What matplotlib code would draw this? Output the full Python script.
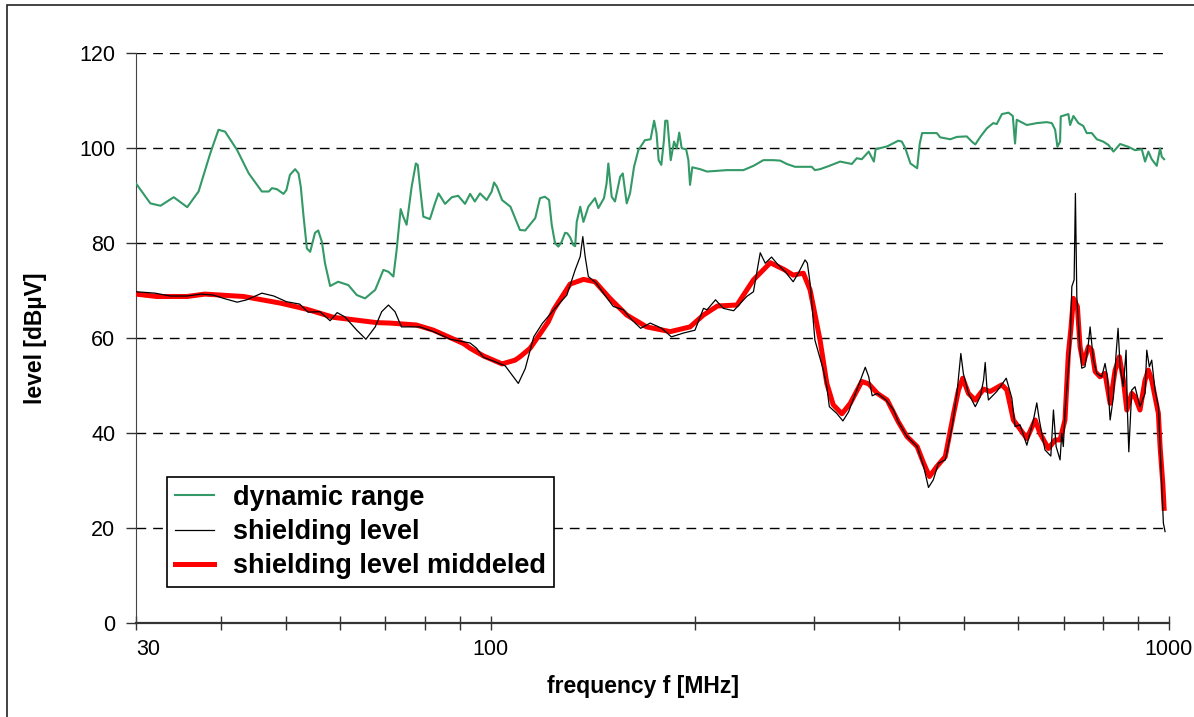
import matplotlib.pyplot as plt
from matplotlib.ticker import FixedLocator, FixedFormatter, NullFormatter
from matplotlib.patches import Rectangle

plt.rcParams['font.family'] = ['Liberation Sans', 'DejaVu Sans']

# dynamic range (green)
freq_dyn = [30.0, 31.5, 32.6, 34.1, 35.7, 37.1, 38.6, 39.7, 40.6, 42.3,
            44.0, 46.0, 47.1, 47.6, 48.4, 49.5, 50.0, 50.6, 51.5, 52.1,
            52.5, 53.0, 53.6, 54.2, 55.1, 55.7, 56.4, 57.0, 58.0, 59.6,
            61.7, 63.5, 65.3, 67.6, 69.5, 70.7, 71.9, 72.7, 73.7, 74.3,
            75.2, 76.5, 77.6, 78.1, 78.7, 79.6, 81.4, 82.8, 83.8, 85.7,
            87.7, 89.6, 91.7, 93.3, 94.8, 96.5, 98.7, 100.4, 101.2, 102.2,
            104.0, 107.0, 110.5, 112.5, 116.4, 118.3, 120.3, 122.0, 123.1, 124.5,
            125.9, 127.3, 128.8, 129.8, 131.0, 132.5, 133.3, 134.0, 135.6, 137.1,
            139.4, 142.6, 144.2, 147.0, 148.3, 149.2, 150.9, 152.6, 155.3, 156.7,
            158.8, 160.6, 162.8, 165.2, 168.9, 172.2, 174.3, 175.7, 177.0, 178.6,
            180.2, 181.0, 182.3, 184.4, 186.5, 188.2, 189.8, 191.4, 194.3, 195.8,
            196.9, 198.4, 203.8, 208.6, 223.1, 236.0, 244.2, 252.6, 261.2, 267.4,
            273.5, 281.2, 297.6, 300.9, 306.2, 316.0, 327.8, 341.1, 346.8, 352.8,
            361.2, 367.6, 369.8, 384.6, 399.4, 404.2, 409.0, 416.2, 425.8, 429.6,
            433.0, 442.5, 455.2, 460.5, 476.6, 487.4, 503.9, 512.8, 518.7, 527.6,
            539.5, 551.4, 558.0, 567.8, 580.6, 589.2, 593.7, 597.1, 618.0, 639.2,
            661.2, 672.7, 680.3, 685.6, 691.8, 693.4, 711.6, 715.8, 723.9, 736.2,
            748.5, 757.4, 770.5, 783.7, 801.1, 815.2, 829.3, 848.3, 872.5, 892.3,
            912.9, 923.3, 933.7, 944.4, 960.6, 971.6, 977.2, 985.0]
dyn_range = [92.6, 88.4, 87.9, 89.7, 87.6, 90.9, 98.9, 103.9, 103.5, 99.6,
             94.7, 90.9, 90.9, 91.6, 91.4, 90.4, 91.2, 94.4, 95.6, 94.7,
             91.9, 85.6, 78.9, 78.2, 82.2, 82.7, 80.3, 75.8, 71.0, 71.9,
             71.2, 69.1, 68.4, 70.2, 74.4, 74.0, 73.0, 78.6, 87.2, 85.7,
             83.9, 91.9, 96.8, 96.5, 91.9, 85.6, 85.1, 88.4, 90.5, 88.3,
             89.7, 90.0, 88.3, 90.4, 88.8, 90.5, 89.1, 90.9, 92.8, 91.9,
             89.1, 87.7, 82.8, 82.7, 85.3, 89.5, 89.8, 89.1, 83.9, 80.0,
             79.3, 80.3, 82.2, 82.1, 81.3, 79.6, 79.4, 84.5, 87.7, 84.5,
             87.7, 89.5, 87.4, 89.5, 92.6, 96.8, 89.8, 88.8, 94.0, 94.7,
             88.4, 90.5, 96.1, 99.6, 101.7, 101.9, 105.8, 103.2, 97.5, 96.5,
             101.7, 105.8, 105.8, 97.5, 101.4, 100.0, 103.3, 100.0, 99.8, 97.5,
             92.3, 96.0, 95.6, 95.1, 95.4, 95.4, 96.3, 97.5, 97.5, 97.4,
             96.7, 96.1, 96.1, 95.4, 95.6, 96.3, 97.2, 96.7, 97.9, 97.7,
             99.3, 97.2, 99.8, 100.4, 101.6, 101.4, 100.0, 96.8, 95.8, 101.0,
             103.2, 103.2, 103.2, 102.3, 101.9, 102.4, 102.5, 101.4, 100.8, 102.4,
             104.2, 105.3, 105.1, 107.2, 107.5, 106.8, 101.0, 106.0, 104.9, 105.3,
             105.5, 105.3, 103.9, 100.3, 101.4, 106.7, 107.2, 104.9, 106.8, 105.3,
             104.7, 103.2, 103.2, 101.9, 101.4, 100.7, 99.3, 100.9, 100.3, 99.6,
             99.8, 97.2, 99.3, 97.7, 96.3, 100.0, 98.2, 97.7]

# shielding level (black)
freq_shield = [30.0, 32.0, 33.7, 35.7, 37.4, 39.0, 40.4, 42.3, 43.7, 46.0,
               47.9, 50.0, 52.3, 53.8, 56.0, 58.0, 59.4, 61.0, 63.5, 65.5,
               67.6, 69.1, 70.7, 72.3, 73.9, 78.7, 82.4, 87.2, 93.3, 95.4,
               97.6, 101.0, 105.1, 109.9, 112.5, 115.8, 119.2, 124.5, 129.6, 133.3,
               135.6, 136.8, 137.9, 139.4, 143.2, 147.4, 151.7, 157.0, 161.5, 166.5,
               172.0, 178.9, 184.8, 192.5, 200.2, 206.1, 208.6, 214.7, 220.5, 228.3,
               238.7, 244.2, 248.4, 249.9, 254.2, 259.7, 264.3, 272.0, 279.5, 284.4,
               291.0, 293.3, 296.0, 300.9, 309.7, 313.3, 316.0, 324.0, 330.9, 337.3,
               346.8, 352.8, 357.0, 361.2, 365.5, 372.0, 383.1, 393.0, 399.4, 411.4,
               425.8, 435.3, 442.5, 449.8, 457.7, 468.5, 479.4, 487.4, 491.6, 493.9,
               498.1, 506.8, 518.7, 527.6, 533.5, 536.5, 539.5, 542.4, 558.0, 576.2,
               587.3, 593.7, 603.8, 618.0, 632.0, 639.2, 644.7, 657.3, 670.4, 676.4,
               682.6, 691.8, 695.7, 699.5, 703.4, 709.4, 715.8, 720.0, 725.6, 728.8,
               732.3, 738.7, 744.6, 752.9, 761.6, 766.1, 774.7, 783.7, 796.9, 805.9,
               812.4, 820.0, 829.3, 836.8, 842.4, 848.3, 857.7, 865.7, 869.5, 873.7,
               882.5, 892.3, 907.5, 923.3, 928.6, 936.8, 944.4, 955.0, 966.0, 971.6,
               977.2, 982.5, 988.2]
shield_level = [69.8, 69.5, 68.9, 68.9, 69.3, 69.1, 68.4, 67.6, 68.1, 69.5,
                68.9, 67.7, 67.2, 65.5, 65.6, 63.7, 65.4, 64.5, 61.7, 59.8,
                62.4, 65.6, 67.0, 65.6, 62.4, 62.4, 61.4, 59.8, 59.0, 57.9,
                56.0, 55.2, 54.2, 50.5, 53.6, 60.3, 63.1, 66.3, 69.1, 74.4,
                77.2, 81.4, 77.2, 73.0, 71.6, 69.1, 66.7, 66.0, 63.9, 62.1,
                63.2, 62.1, 60.3, 61.1, 61.7, 66.3, 66.0, 68.1, 66.3, 65.8,
                68.8, 69.8, 75.8, 78.0, 75.8, 77.1, 75.8, 74.0, 71.9, 73.7,
                76.5, 75.8, 71.6, 59.6, 53.3, 49.8, 45.6, 44.2, 42.6, 44.5,
                49.1, 51.9, 53.9, 51.9, 47.9, 48.4, 47.0, 44.9, 42.4, 39.3,
                37.2, 33.0, 28.6, 30.2, 33.7, 34.4, 41.4, 48.4, 54.0, 56.8,
                52.6, 48.4, 45.6, 47.7, 51.2, 54.9, 49.8, 47.0, 48.8, 51.6,
                47.4, 41.4, 41.8, 37.5, 42.8, 46.4, 42.8, 36.5, 35.2, 44.9,
                37.2, 34.4, 40.0, 37.2, 44.2, 51.2, 58.2, 70.9, 72.3, 90.5,
                68.8, 59.6, 53.7, 54.0, 58.9, 62.4, 55.4, 52.6, 51.9, 54.7,
                51.9, 42.8, 47.7, 56.8, 62.1, 54.0, 49.8, 57.5, 44.9, 36.1,
                49.1, 49.8, 45.6, 48.4, 57.5, 54.0, 55.4, 49.1, 45.6, 37.2,
                28.8, 21.1, 19.3]

# shielding level middeled (red)
freq_mid = [30.0, 32.2, 35.7, 37.9, 43.2, 49.0, 53.6, 58.7, 62.8, 67.9,
            71.1, 77.7, 82.4, 91.2, 93.3, 97.6, 104.0, 108.7, 110.5, 114.4,
            117.1, 121.7, 123.9, 131.0, 137.1, 142.6, 150.0, 158.8, 169.9, 184.1,
            196.9, 206.1, 216.1, 230.9, 244.2, 258.6, 270.8, 279.5, 289.3, 296.0,
            306.2, 313.3, 320.2, 329.8, 339.2, 352.8, 361.2, 372.0, 384.6, 399.4,
            411.4, 425.8, 435.3, 444.0, 455.2, 468.5, 482.0, 490.0, 497.1, 506.8,
            518.7, 533.5, 545.5, 567.8, 577.5, 590.4, 618.0, 635.6, 646.2, 664.9,
            680.3, 691.8, 703.4, 711.6, 717.5, 723.9, 733.7, 740.4, 748.5, 761.6,
            770.5, 779.2, 792.4, 805.9, 820.0, 834.0, 846.1, 857.7, 867.8, 882.5,
            892.3, 907.5, 923.3, 933.7, 944.4, 955.0, 966.0, 971.6, 980.5, 985.0]
shield_mid = [69.3, 68.8, 68.8, 69.3, 68.8, 67.4, 66.1, 64.4, 63.9, 63.3,
              63.2, 62.8, 61.7, 58.9, 57.9, 56.3, 54.6, 55.4, 56.1, 57.9,
              60.0, 63.5, 66.0, 71.4, 72.4, 71.9, 68.4, 64.9, 62.4, 61.4,
              62.4, 64.9, 66.8, 67.0, 72.3, 75.9, 74.5, 73.3, 73.7, 70.2,
              59.6, 50.5, 46.0, 44.1, 46.3, 50.9, 50.4, 48.4, 47.0, 42.4,
              39.3, 37.2, 33.7, 30.9, 33.0, 35.1, 44.2, 49.1, 51.6, 48.4,
              47.0, 49.3, 48.8, 50.2, 49.1, 42.8, 38.9, 42.8, 40.0, 36.8,
              38.6, 38.6, 42.8, 56.8, 61.8, 68.4, 66.7, 58.2, 54.7, 58.2,
              57.5, 53.0, 51.9, 52.6, 46.3, 53.3, 56.1, 51.2, 44.9, 48.4,
              47.7, 44.9, 51.2, 53.3, 51.2, 47.7, 44.2, 37.2, 29.5, 24.2]

x_major = [30, 100, 1000]
x_minor = [40, 50, 60, 70, 80, 90, 200, 300, 400, 500, 600, 700, 800, 900]
y_ticks = [0, 20, 40, 60, 80, 100, 120]

fig = plt.figure(figsize=(11.94, 7.17), dpi=100)
ax = fig.add_axes([0.1139, 0.1307, 0.8648, 0.7950])

ax.plot(freq_dyn, dyn_range, color='#339966', lw=1.5, label='dynamic range', zorder=3)
ax.plot(freq_mid, shield_mid, color='#ff0000', lw=3.6, label='shielding level middeled', zorder=3)
ax.plot(freq_shield, shield_level, color='black', lw=0.9, label='shielding level', zorder=4)

ax.set_xscale('log')
ax.set_xlim(30, 1000)
ax.set_ylim(0, 120)

ax.xaxis.set_major_locator(FixedLocator(x_major))
ax.xaxis.set_major_formatter(FixedFormatter([str(v) for v in x_major]))
ax.xaxis.set_minor_locator(FixedLocator(x_minor))
ax.xaxis.set_minor_formatter(NullFormatter())
ax.set_yticks(y_ticks)

ax.tick_params(axis='x', which='both', direction='inout', length=10, width=1,
               labelsize=15.5, pad=6, color='#333333')
ax.tick_params(axis='y', direction='out', length=7, width=1, labelsize=15.5, pad=8,
               color='#333333')
ax.get_xticklabels()[0].set_horizontalalignment('left')

for s in ['top', 'right']:
    ax.spines[s].set_visible(False)
ax.spines['left'].set_color('#444444')
ax.spines['bottom'].set_color('#333333')
ax.spines['bottom'].set_linewidth(1.6)

ax.yaxis.grid(True, linestyle=(0, (7, 5)), color='black', lw=1)
ax.set_axisbelow(True)

ax.set_xlabel('frequency f [MHz]', fontsize=16.5, fontweight='bold')
ax.set_ylabel('level [dBµV]', fontsize=16.5, fontweight='bold')
ax.xaxis.set_label_coords(0.491, -0.09)
ax.yaxis.set_label_coords(-0.086, 0.5)

handles, labels = ax.get_legend_handles_labels()
order = [0, 2, 1]
leg = ax.legend([handles[i] for i in order], [labels[i] for i in order],
                loc='upper left', bbox_to_anchor=(0.0297, 0.257), borderaxespad=0,
                fancybox=False, edgecolor='black', framealpha=1,
                prop={'weight': 'bold', 'size': 19.5},
                handlelength=1.45, handletextpad=0.7, labelspacing=0.3, borderpad=0.3)
leg.get_frame().set_linewidth(1.2)

fig.patches.append(Rectangle((7 / 1194, -0.05), 1.1, 1 - 5 / 717 + 0.05,
                             transform=fig.transFigure, fill=False,
                             edgecolor='#222222', lw=1.2))

fig.savefig('out.png', dpi=100)
